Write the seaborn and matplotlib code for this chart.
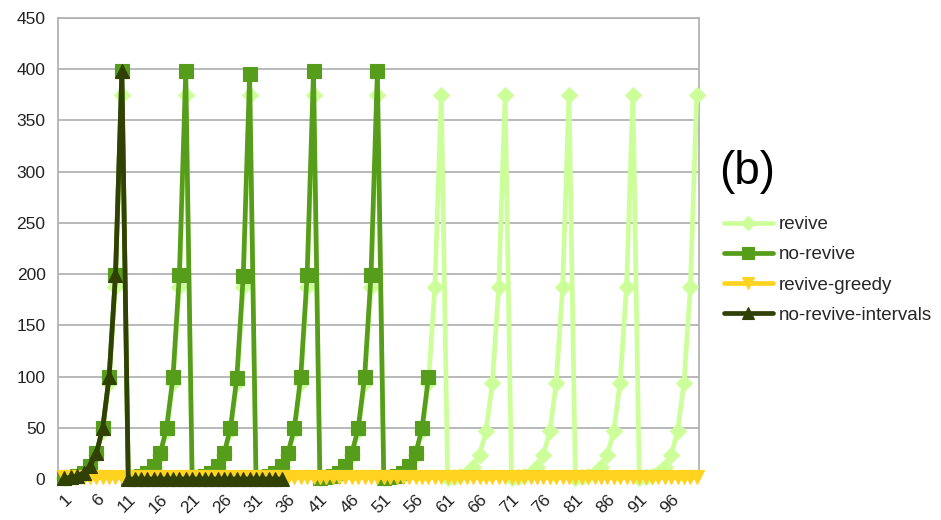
import matplotlib
matplotlib.use("Agg")
import matplotlib.pyplot as plt
import seaborn as sns
import pandas as pd
import numpy as np

# ---- data -------------------------------------------------------------
steps = list(range(1, 101))

revive = [
    0.7, 1.5, 2.9, 5.9, 11.7, 23.4, 46.9, 93.8, 187.5, 375,
    0.7, 1.5, 2.9, 5.9, 11.7, 23.4, 46.9, 93.8, 187.5, 375,
    0.7, 1.5, 2.9, 5.9, 11.7, 23.4, 46.9, 93.8, 187.5, 375,
    0.7, 1.5, 2.9, 5.9, 11.7, 23.4, 46.9, 93.8, 187.5, 375,
    0.7, 1.5, 2.9, 5.9, 11.7, 23.4, 46.9, 93.8, 187.5, 375,
    0.7, 1.5, 2.9, 5.9, 11.7, 23.4, 46.9, 93.8, 187.5, 375,
    0.7, 1.5, 2.9, 5.9, 11.7, 23.4, 46.9, 93.8, 187.5, 375,
    0.7, 1.5, 2.9, 5.9, 11.7, 23.4, 46.9, 93.8, 187.5, 375,
    0.7, 1.5, 2.9, 5.9, 11.7, 23.4, 46.9, 93.8, 187.5, 375,
    0.7, 1.5, 2.9, 5.9, 11.7, 23.4, 46.9, 93.8, 187.5, 375,
]

no_revive = [
    0.8, 1.6, 3.1, 6.2, 12.4, 24.9, 49.7, 99.5, 199, 398,
    0.8, 1.6, 3.1, 6.2, 12.4, 24.9, 49.7, 99.5, 199, 398,
    0.8, 1.6, 3.1, 6.2, 12.4, 24.9, 49.7, 99.0, 198, 395,
    0.8, 1.6, 3.1, 6.2, 12.4, 24.9, 49.7, 99.5, 199, 398,
    0.8, 1.6, 3.1, 6.2, 12.4, 24.9, 49.7, 99.5, 199, 398,
    0.8, 1.6, 3.1, 6.2, 12.4, 24.9, 49.7, 99.5,
]

revive_greedy = [
    2, 2, 2, 2, 2, 2, 2, 2, 2, 2, 2, 2, 2, 2, 2, 2, 2, 2, 2, 2,
    2, 2, 2, 2, 2, 2, 2, 2, 2, 2, 2, 2, 2, 2, 2, 2, 2, 2, 2, 2,
    2, 2, 2, 2, 2, 2, 2, 2, 2, 2, 2, 2, 2, 2, 2, 2, 2, 2, 2, 2,
    2, 2, 2, 2, 2, 2, 2, 2, 2, 2, 2, 2, 2, 2, 2, 2, 2, 2, 2, 2,
    2, 2, 2, 2, 2, 2, 2, 2, 2, 2, 2, 2, 2, 2, 2, 2, 2, 2, 2, 2,
]

no_revive_intervals = [
    0.8, 1.6, 3.1, 6.2, 12.4, 24.9, 49.7, 99.5, 199, 398,
    0, 0, 0, 0, 0, 0, 0, 0, 0, 0, 0, 0, 0, 0, 0, 0, 0, 0, 0, 0,
    0, 0, 0, 0, 0,
]

xtick_labels = [str(v) for v in range(1, 101, 5)]
yticks = [0, 50, 100, 150, 200, 250, 300, 350, 400, 450]

series = [
    ("revive", revive, "#ccff99", "D", 8.5, 10),
    ("no-revive", no_revive, "#579d1c", "s", 10.5, 11),
    ("revive-greedy", revive_greedy, "#ffd320", "v", 10.0, 12),
    ("no-revive-intervals", no_revive_intervals, "#314004", "^", 10.5, 13),
]

# ---- figure -----------------------------------------------------------
sns.set_style("white")
plt.rcParams["font.family"] = ["Liberation Sans", "DejaVu Sans"]

fig = plt.figure(figsize=(9.41, 5.20), dpi=100)
ax = fig.add_axes([58 / 941, 1 - 479 / 520, (699 - 58) / 941, (479 - 18) / 520])

for name, vals, color, marker, ms, z in series:
    df = pd.DataFrame({"step": steps[:len(vals)], "value": vals})
    sns.lineplot(data=df, x="step", y="value", ax=ax, color=color,
                 marker=marker, markersize=ms, linewidth=3.4,
                 markeredgecolor=color, markeredgewidth=0.8,
                 label=name, zorder=z, clip_on=False)

ax.set_xlim(0.0, 100.35)
ax.set_ylim(0, 450)
ax.set_yticks(yticks)
ax.set_yticklabels([str(v) for v in yticks], fontsize=12.5, color="#222222")
ax.set_xticks(list(range(1, 101, 5)))
ax.set_xticklabels(xtick_labels, fontsize=12.5, color="#222222",
                   rotation=45, ha="right", va="top", rotation_mode="anchor")
ax.tick_params(axis="y", length=4, width=1, color="#b3b3b3", pad=5)
ax.tick_params(axis="x", length=0, pad=9)
ax.set_xlabel("")
ax.set_ylabel("")

ax.yaxis.grid(True, color="#b3b3b3", linewidth=1.3)
ax.xaxis.grid(False)
for side in ["left", "right", "top", "bottom"]:
    ax.spines[side].set_color("#b3b3b3")
    ax.spines[side].set_linewidth(1.3)

handles, labels = ax.get_legend_handles_labels()
ax.legend(handles, labels, loc="upper left",
          bbox_to_anchor=(724 / 941, 1 - 216 / 520),
          bbox_transform=fig.transFigure, frameon=False, fontsize=13.5,
          handlelength=2.6, handletextpad=0.3, labelspacing=0.7,
          borderpad=0, borderaxespad=0, markerscale=0.8)

fig.text(719 / 941, 1 - 172 / 520, "(b)", fontsize=33, va="center",
         ha="left", color="#000000")

fig.savefig("out.png", dpi=100)
